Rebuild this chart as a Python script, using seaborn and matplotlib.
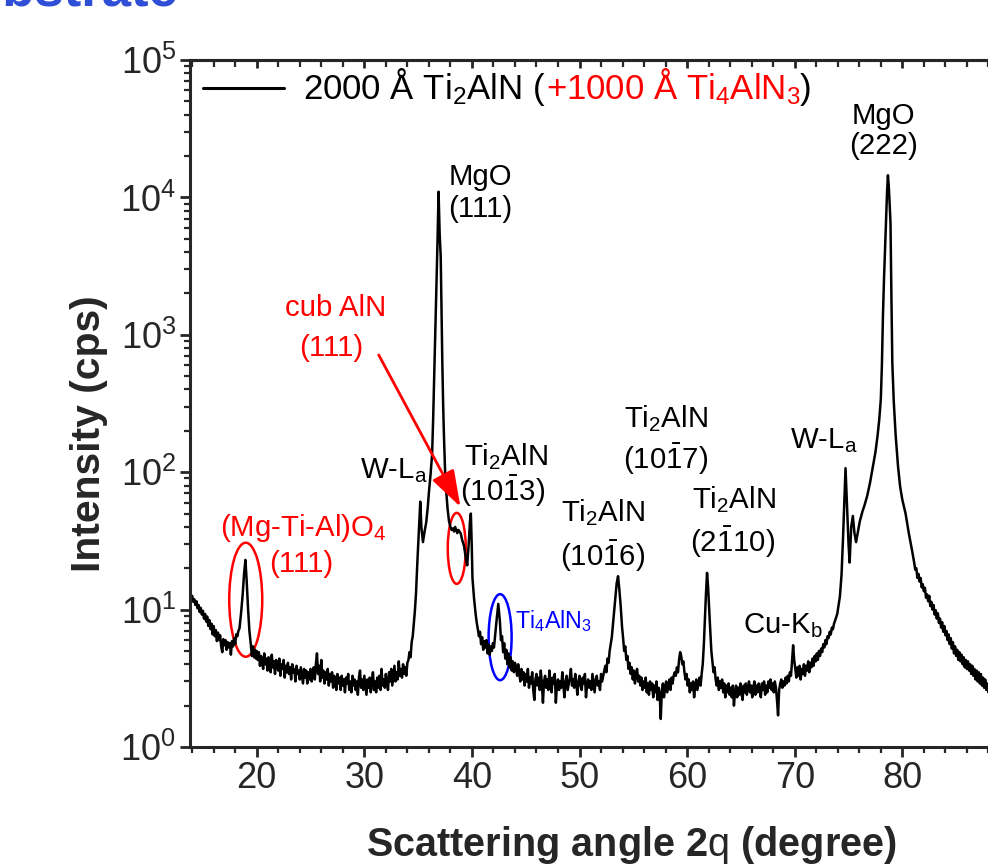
# XRD scan of Ti2AlN / Ti4AlN3 film on MgO(111) -- log intensity vs 2-theta
import numpy as np
import pandas as pd
import seaborn as sns
import matplotlib.pyplot as plt
from matplotlib import font_manager
from matplotlib.patches import Ellipse
from matplotlib.lines import Line2D
from matplotlib.offsetbox import AnchoredOffsetbox, HPacker, TextArea, DrawingArea
from matplotlib.ticker import MultipleLocator, LogLocator, NullFormatter

# --------------------------------------------
# scan data: (2theta [deg], intensity [cps])
# --------------------------------------------
scan_low = [  # 13.8 - 34 deg, spinel (111) at ~19 deg
    (13.8, 13.0), (13.9, 12.1), (14.0, 12.6), (14.1, 11.4), (14.2, 11.9), (14.3, 10.8),
    (14.4, 11.5), (14.5, 10.2), (14.6, 10.8), (14.7, 9.6), (14.8, 10.3), (14.9, 9.2),
    (15.0, 9.8), (15.1, 8.6), (15.2, 9.3), (15.3, 8.2), (15.4, 8.9), (15.5, 7.6),
    (15.6, 8.4), (15.7, 7.2), (15.8, 7.9), (15.9, 6.6), (16.0, 7.6), (16.1, 6.4),
    (16.2, 7.1), (16.3, 5.9), (16.4, 6.8), (16.5, 6.0), (16.6, 6.5), (16.7, 5.4),
    (16.8, 4.9), (16.9, 6.1), (17.0, 5.5), (17.1, 6.0), (17.2, 5.1), (17.3, 5.8),
    (17.4, 5.3), (17.5, 5.7), (17.6, 4.7), (17.7, 5.9), (17.8, 5.4), (17.9, 6.2),
    (18.0, 5.6), (18.1, 6.6), (18.2, 6.4), (18.3, 7.0), (18.4, 7.3),
    (18.55, 9.5), (18.7, 13.0), (18.82, 18.0), (18.95, 23.0), (19.07, 16.0), (19.2, 10.0),
    (19.32, 7.0), (19.45, 5.6), (19.55, 4.6), (19.65, 5.4), (19.75, 4.5), (19.85, 5.1),
    (19.93, 4.4),
    (20.0, 5.0), (20.1, 4.3), (20.2, 4.9), (20.3, 3.9), (20.4, 4.6), (20.5, 4.1),
    (20.6, 3.7), (20.7, 4.8), (20.8, 4.0), (20.9, 4.4), (21.0, 3.6), (21.1, 4.5),
    (21.2, 4.1), (21.3, 3.5), (21.4, 4.7), (21.5, 3.8), (21.6, 4.2), (21.7, 3.4),
    (21.8, 4.3), (21.9, 3.9), (22.0, 3.6), (22.1, 4.4), (22.2, 3.3), (22.3, 4.0),
    (22.4, 3.7), (22.5, 4.3), (22.6, 3.2), (22.7, 3.9), (22.8, 3.5), (22.9, 4.1),
    (23.0, 3.4), (23.1, 3.8), (23.2, 3.1), (23.3, 4.0), (23.4, 3.5), (23.5, 3.7),
    (23.6, 3.0), (23.7, 3.9), (23.8, 3.4), (23.9, 3.6), (24.0, 3.1), (24.1, 3.8),
    (24.2, 3.3), (24.3, 2.9), (24.4, 3.7), (24.5, 3.2), (24.6, 3.6), (24.7, 2.9),
    (24.8, 3.5), (24.9, 3.1), (25.0, 3.7), (25.1, 3.0), (25.2, 3.4), (25.3, 3.8),
    (25.4, 3.1), (25.5, 4.0), (25.6, 4.8), (25.7, 3.4), (25.8, 3.9), (25.9, 3.0),
    (26.0, 4.3), (26.1, 3.2), (26.2, 3.6), (26.3, 2.9), (26.4, 3.5), (26.5, 3.1),
    (26.6, 3.7), (26.7, 2.8), (26.8, 3.4), (26.9, 3.0), (27.0, 3.5), (27.1, 2.7),
    (27.2, 3.3), (27.3, 3.0), (27.4, 2.6), (27.5, 3.4), (27.6, 2.9), (27.7, 3.2),
    (27.8, 2.6), (27.9, 3.3), (28.0, 2.8), (28.1, 3.1), (28.2, 2.5), (28.3, 3.2),
    (28.4, 2.9), (28.5, 3.4), (28.6, 2.6), (28.7, 3.0), (28.8, 2.5), (28.9, 3.3),
    (29.0, 2.8), (29.1, 3.1), (29.2, 2.6), (29.3, 3.0), (29.4, 2.4), (29.5, 3.2),
    (29.6, 3.6), (29.7, 2.7), (29.8, 3.1), (29.9, 2.6), (30.0, 3.3), (30.1, 2.8),
    (30.2, 2.4), (30.3, 3.1), (30.4, 2.7), (30.5, 3.2), (30.6, 2.5), (30.7, 3.0),
    (30.8, 3.5), (30.9, 2.6), (31.0, 3.0), (31.1, 2.5), (31.2, 3.2), (31.3, 2.7),
    (31.4, 3.3), (31.5, 2.6), (31.6, 3.7), (31.7, 2.8), (31.8, 3.1), (31.9, 2.7),
    (32.0, 3.4), (32.1, 2.9), (32.2, 2.6), (32.3, 3.5), (32.4, 3.0), (32.5, 3.7),
    (32.6, 2.8), (32.7, 3.3), (32.8, 3.9), (32.9, 3.0), (33.0, 3.5), (33.1, 3.1),
    (33.2, 4.2), (33.3, 3.3), (33.4, 3.7), (33.5, 3.2), (33.6, 4.0), (33.7, 3.4),
    (33.8, 3.8), (33.9, 3.3), (34.0, 4.1),
]

scan_mgo111 = [  # 34.2 - 44 deg: W-La, MgO(111), cub AlN, Ti2AlN, Ti4AlN3
    (34.1, 4.3), (34.2, 4.9), (34.3, 4.5), (34.4, 5.8), (34.5, 6.4), (34.6, 8.0),
    (34.7, 9.8), (34.8, 13.0), (34.95, 24.0), (35.1, 42.0),
    (35.2, 61.0), (35.3, 40.0), (35.45, 31.0), (35.6, 37.0), (35.75, 43.0), (35.9, 56.0),
    (36.0, 71.0), (36.15, 95.0), (36.3, 135.0), (36.4, 250.0), (36.48, 450.0), (36.56, 850.0),
    (36.64, 1500.0), (36.72, 2800.0), (36.8, 4700.0), (36.9, 11000.0), (37.0, 5500.0),
    (37.1, 3700.0), (37.18, 1400.0), (37.25, 620.0), (37.33, 300.0), (37.4, 185.0),
    (37.5, 105.0), (37.6, 75.0), (37.73, 55.0), (37.87, 44.0), (38.0, 40.0), (38.12, 38.0),
    (38.24, 39.0), (38.34, 37.0), (38.44, 40.0), (38.54, 38.0), (38.64, 36.0), (38.74, 38.0),
    (38.84, 37.0), (38.95, 36.0), (39.1, 32.0), (39.27, 29.0), (39.42, 24.0), (39.56, 21.0),
    (39.7, 30.0), (39.82, 44.0), (39.9, 50.0), (39.98, 30.0), (40.05, 17.0), (40.2, 12.0),
    (40.35, 9.2), (40.45, 8.0), (40.55, 7.2), (40.65, 6.4), (40.75, 6.9), (40.85, 5.6),
    (40.95, 6.3), (41.05, 5.1), (41.15, 5.9), (41.25, 5.3), (41.35, 6.0), (41.45, 4.8),
    (41.55, 5.6), (41.65, 4.7), (41.75, 5.4), (41.85, 5.0), (41.95, 5.7), (42.05, 5.3),
    (42.15, 6.4), (42.3, 8.5), (42.45, 11.0), (42.6, 8.2), (42.7, 6.0), (42.8, 6.4),
    (42.9, 4.9), (43.0, 5.7), (43.1, 4.4), (43.2, 5.1), (43.3, 4.0), (43.4, 4.8),
    (43.5, 3.8), (43.6, 4.5), (43.7, 3.6), (43.8, 4.2), (43.9, 3.5), (44.0, 4.1),
]

scan_mid = [  # 44.1 - 59.15 deg: Ti2AlN (10-16)
    (44.1, 3.8), (44.2, 3.3), (44.3, 4.0), (44.4, 3.4), (44.5, 3.0), (44.6, 3.7),
    (44.7, 3.1), (44.8, 3.5), (44.9, 2.8), (45.0, 3.4), (45.1, 3.0), (45.2, 3.7),
    (45.3, 2.7), (45.4, 3.2), (45.5, 2.9), (45.6, 3.5), (45.7, 2.6), (45.8, 2.2),
    (45.9, 3.1), (46.0, 3.4), (46.1, 2.8), (46.2, 3.2), (46.3, 2.6), (46.4, 3.6),
    (46.5, 2.9), (46.6, 2.1), (46.7, 3.0), (46.8, 3.3), (46.9, 2.7), (47.0, 3.1),
    (47.1, 2.6), (47.2, 3.6), (47.3, 2.9), (47.4, 2.5), (47.5, 3.2), (47.6, 2.9),
    (47.7, 3.4), (47.8, 2.1), (47.9, 2.8), (48.0, 3.1), (48.1, 2.6), (48.2, 3.0),
    (48.3, 2.7), (48.4, 3.5), (48.5, 2.8), (48.6, 2.3), (48.7, 3.0), (48.8, 3.3),
    (48.9, 2.6), (49.0, 2.9), (49.1, 3.2), (49.2, 3.7), (49.3, 2.8), (49.4, 3.1),
    (49.5, 2.7), (49.6, 3.4), (49.7, 2.9), (49.8, 2.4), (49.9, 3.0), (50.0, 3.3),
    (50.1, 2.8), (50.2, 2.6), (50.3, 3.2), (50.4, 2.9), (50.5, 3.4), (50.6, 2.3),
    (50.7, 2.8), (50.8, 3.1), (50.9, 2.7), (51.0, 3.0), (51.1, 2.6), (51.2, 3.4),
    (51.3, 2.9), (51.4, 2.5), (51.5, 3.1), (51.6, 3.3), (51.7, 2.8), (51.8, 3.0),
    (51.9, 2.6), (52.0, 3.4), (52.1, 3.0), (52.2, 3.3), (52.3, 3.6), (52.4, 3.9),
    (52.5, 3.5), (52.6, 4.4), (52.7, 4.1), (52.8, 5.0), (52.9, 5.6),
    (53.0, 6.3), (53.15, 8.5), (53.3, 11.5), (53.45, 15.5), (53.58, 17.5), (53.7, 14.0),
    (53.83, 10.5), (53.95, 7.5), (54.05, 6.2), (54.15, 5.0), (54.25, 5.4), (54.35, 4.3),
    (54.45, 4.6), (54.55, 3.7),
    (54.65, 4.1), (54.75, 3.4), (54.85, 3.8), (54.95, 3.1), (55.05, 3.6), (55.15, 2.9),
    (55.25, 3.4), (55.35, 3.7), (55.45, 3.0), (55.55, 3.3), (55.65, 2.8), (55.75, 3.2),
    (55.85, 2.6), (55.95, 3.0), (56.05, 2.7), (56.15, 3.2), (56.25, 2.5), (56.35, 2.9),
    (56.45, 2.4), (56.55, 3.0), (56.65, 2.6), (56.75, 2.9), (56.85, 2.3), (56.95, 2.8),
    (57.05, 2.5), (57.15, 3.0), (57.25, 2.2), (57.35, 2.7), (57.45, 2.4), (57.55, 1.6),
    (57.65, 2.6), (57.75, 2.9), (57.85, 2.3), (57.95, 2.7), (58.05, 3.0), (58.15, 2.5),
    (58.25, 2.8), (58.35, 3.1), (58.45, 2.6), (58.55, 3.2), (58.65, 2.9), (58.75, 3.3),
    (58.85, 3.5), (58.95, 3.3), (59.05, 3.8), (59.15, 3.5),
]

scan_high = [  # 59.25 - 73.85 deg: Ti2AlN (2-1-10), Cu-Kb
    (59.25, 4.3), (59.35, 4.9), (59.45, 4.6), (59.55, 4.0), (59.65, 4.2), (59.75, 3.5),
    (59.85, 3.1), (59.95, 3.4), (60.05, 2.8), (60.15, 3.1), (60.25, 2.5), (60.35, 2.9),
    (60.45, 2.6), (60.55, 3.0), (60.65, 2.3), (60.75, 2.8), (60.85, 3.1), (60.95, 2.6),
    (61.05, 2.9), (61.15, 3.2), (61.25, 2.8), (61.35, 3.4), (61.45, 4.0), (61.55, 5.5),
    (61.65, 8.5), (61.75, 13.0), (61.85, 18.5), (61.95, 14.5), (62.05, 10.0), (62.15, 7.0),
    (62.25, 5.0), (62.35, 4.2), (62.45, 3.5), (62.55, 3.8),
    (62.65, 3.1), (62.75, 2.8), (62.85, 3.2), (62.95, 2.6), (63.05, 3.0), (63.15, 2.7),
    (63.25, 3.1), (63.35, 2.5), (63.45, 2.9), (63.55, 2.3), (63.65, 2.8), (63.75, 2.5),
    (63.85, 2.9), (63.95, 2.4), (64.05, 2.7), (64.15, 2.3), (64.25, 2.8), (64.35, 2.0),
    (64.45, 2.5), (64.55, 2.8), (64.65, 2.3), (64.75, 2.7), (64.85, 2.4), (64.95, 2.9),
    (65.05, 2.5), (65.15, 2.2), (65.25, 2.8), (65.35, 2.5), (65.45, 2.9), (65.55, 2.4),
    (65.65, 2.7), (65.75, 3.0), (65.85, 2.5), (65.95, 2.8), (66.05, 2.3), (66.15, 2.7),
    (66.25, 3.0), (66.35, 2.4), (66.45, 2.8), (66.55, 2.5), (66.65, 2.9), (66.75, 2.6),
    (66.85, 2.3), (66.95, 2.9), (67.05, 2.6), (67.15, 3.0), (67.25, 2.4), (67.35, 2.8),
    (67.45, 2.5), (67.55, 3.0), (67.65, 2.7), (67.75, 3.1), (67.85, 2.6), (67.95, 2.9),
    (68.05, 2.5), (68.15, 3.0), (68.25, 2.7), (68.35, 2.2), (68.45, 1.7), (68.55, 2.6),
    (68.65, 2.9), (68.75, 3.1), (68.85, 2.7), (68.95, 3.0), (69.05, 2.8), (69.15, 3.2),
    (69.25, 2.9), (69.35, 3.3), (69.45, 3.0), (69.55, 3.5), (69.65, 3.3), (69.75, 4.2),
    (69.85, 5.5), (69.95, 4.3), (70.05, 3.7),
    (70.15, 3.2), (70.25, 3.8), (70.35, 3.3), (70.45, 3.9), (70.55, 3.1), (70.65, 3.7),
    (70.75, 3.4), (70.85, 4.0), (70.95, 3.3), (71.05, 3.9), (71.15, 3.6), (71.25, 4.2),
    (71.35, 3.5), (71.45, 4.1), (71.55, 3.8), (71.65, 4.4), (71.75, 3.9), (71.85, 4.6),
    (71.95, 4.2), (72.05, 4.8), (72.15, 4.3), (72.25, 5.0), (72.35, 4.6), (72.45, 5.2),
    (72.55, 4.9), (72.65, 5.6), (72.75, 5.3), (72.85, 6.0), (72.95, 5.6), (73.05, 6.4),
    (73.15, 6.2), (73.25, 6.9), (73.35, 6.6), (73.45, 7.4), (73.55, 7.2), (73.65, 7.9),
    (73.75, 8.3), (73.85, 8.8),
]

scan_mgo222 = [  # 73.95 - 88.3 deg: W-La, MgO(222)
    (73.95, 9.3), (74.05, 10.5), (74.2, 12.5), (74.35, 18.0), (74.48, 32.0), (74.6, 60.0),
    (74.72, 107.0), (74.85, 60.0), (75.0, 30.0), (75.1, 22.0), (75.25, 40.0), (75.4, 48.0),
    (75.55, 36.0), (75.7, 31.0), (75.85, 36.0), (76.05, 44.0), (76.3, 52.0), (76.5, 58.0),
    (76.75, 68.0), (77.0, 84.0), (77.25, 108.0), (77.5, 140.0), (77.7, 185.0), (77.85, 240.0),
    (78.0, 340.0), (78.1, 600.0), (78.2, 1400.0), (78.3, 2600.0), (78.4, 4300.0),
    (78.5, 7000.0), (78.58, 11000.0), (78.66, 14500.0), (78.74, 12000.0), (78.82, 9000.0),
    (78.9, 6500.0), (78.98, 2000.0), (79.07, 620.0), (79.2, 330.0), (79.38, 185.0),
    (79.6, 110.0), (79.8, 78.0), (80.0, 63.0), (80.3, 50.0), (80.6, 36.0), (80.9, 27.0),
    (81.1, 22.0), (81.2, 19.5), (81.3, 20.0), (81.4, 17.0), (81.5, 18.2), (81.6, 16.0),
    (81.7, 17.0), (81.8, 14.5), (81.9, 15.3), (82.0, 13.6), (82.1, 14.4), (82.2, 12.2),
    (82.3, 12.9), (82.4, 11.5), (82.5, 12.6), (82.6, 10.6), (82.7, 11.4), (82.8, 10.0),
    (82.9, 10.8), (83.0, 9.2), (83.1, 9.9), (83.2, 8.6), (83.3, 9.4), (83.4, 8.0),
    (83.5, 8.6), (83.6, 7.4), (83.7, 8.1), (83.8, 6.9), (83.9, 7.6), (84.0, 6.5),
    (84.1, 7.0), (84.2, 6.0), (84.3, 6.6), (84.4, 5.6), (84.5, 6.2), (84.6, 5.2),
    (84.7, 5.8), (84.8, 4.8), (84.9, 5.4), (85.0, 4.6), (85.1, 5.1), (85.2, 4.3),
    (85.3, 4.9), (85.4, 4.2), (85.5, 4.7), (85.6, 4.0), (85.7, 4.5), (85.8, 3.8),
    (85.9, 4.3), (86.0, 3.7), (86.1, 4.2), (86.2, 3.6), (86.3, 4.0), (86.4, 3.4),
    (86.5, 3.9), (86.6, 3.3), (86.7, 3.7), (86.8, 3.1), (86.9, 3.6), (87.0, 3.0),
    (87.1, 3.5), (87.2, 2.9), (87.3, 3.4), (87.4, 2.8), (87.5, 3.2), (87.6, 2.7),
    (87.7, 3.1), (87.8, 2.6), (87.9, 2.9), (88.0, 2.5), (88.1, 2.8), (88.2, 2.4),
    (88.3, 2.7),
]

df = pd.DataFrame(scan_low + scan_mgo111 + scan_mid + scan_high + scan_mgo222,
                  columns=['two_theta', 'counts'])

# --------------------------------------------
# fonts: condensed Arial look if available
# --------------------------------------------
try:
    font_manager.findfont(font_manager.FontProperties(family='Liberation Sans Narrow'),
                          fallback_to_default=False)
    NARROW = 'Liberation Sans Narrow'
    k = 1.0
except ValueError:
    NARROW = 'Liberation Sans'
    k = 0.88

sns.set_style('ticks')
plt.rcParams['font.family'] = ['Liberation Sans', 'DejaVu Sans']
plt.rcParams['mathtext.fontset'] = 'custom'
plt.rcParams['mathtext.rm'] = NARROW
plt.rcParams['mathtext.default'] = 'regular'

RED = '#ff0000'
BLUE = '#0000ff'

fig = plt.figure(figsize=(9.88, 8.65), dpi=100)
ax = fig.add_axes([190 / 988, 118 / 865, 808 / 988, 687 / 865])

sns.lineplot(data=df, x='two_theta', y='counts', ax=ax, color='black', lw=1.8,
             estimator=None, sort=False, legend=False)
ax.set_yscale('log')
ax.set_xlim(13.8, 88.89)
ax.set_ylim(1, 1e5)

# ticks: out on bottom/left, mirrored in on top
ax.xaxis.set_major_locator(MultipleLocator(10))
ax.xaxis.set_minor_locator(MultipleLocator(2))
ax.yaxis.set_major_locator(LogLocator(base=10, numticks=10))
ax.yaxis.set_minor_locator(LogLocator(base=10, subs=np.arange(2, 10), numticks=20))
ax.yaxis.set_minor_formatter(NullFormatter())
ax.tick_params(which='major', direction='out', length=7, width=2, labelsize=26, pad=3)
ax.tick_params(which='minor', direction='out', length=4, width=1.6)
ax.tick_params(top=False, right=False)
for s in ax.spines.values():
    s.set_linewidth(2.2)

top = ax.secondary_xaxis('top')
top.xaxis.set_major_locator(MultipleLocator(10))
top.xaxis.set_minor_locator(MultipleLocator(2))
top.tick_params(axis='x', which='major', direction='in', length=6, width=2, labeltop=False)
top.tick_params(axis='x', which='minor', direction='in', length=5, width=1.6)
top.spines['top'].set_linewidth(2.2)

ax.set_xlabel(r'Scattering angle 2$\mathrm{q}$ (degree)', family=NARROW, fontsize=34 * 0.84,
              fontweight='bold', va='baseline')
ax.xaxis.set_label_coords(0.5458, -0.1587)
ax.set_ylabel('Intensity (cps)', family=NARROW, fontsize=35 * 0.84, fontweight='bold',
              va='center')
ax.yaxis.set_label_coords(-0.1244, 0.4556)

# slide title, cut off by the top edge
fig.text(178 / 988, 1 - 5 / 865, 'Substrate', color='#2f4fd6', fontsize=38,
         fontweight='bold', ha='right', va='baseline')

# --------------------------------------------
# legend: black line + two-coloured label
# --------------------------------------------
key = DrawingArea(58, 25, 0, 0)
key.add_artist(Line2D([0, 58], [8, 8], color='black', lw=2.2))
lab = HPacker(children=[
    TextArea('2000 Å Ti$_2$AlN (', textprops=dict(color='black', fontsize=25)),
    TextArea('+1000 Å Ti$_4$AlN$_3$', textprops=dict(color=RED, fontsize=25)),
    TextArea(')', textprops=dict(color='black', fontsize=25)),
], align='baseline', pad=0, sep=0)
box = HPacker(children=[key, lab], align='baseline', pad=0, sep=14)
ax.add_artist(AnchoredOffsetbox(loc='center left', child=box, pad=0, borderpad=0,
                                frameon=False, bbox_to_anchor=(203 / 988, 1 - 86 / 865),
                                bbox_transform=fig.transFigure))

# --------------------------------------------
# peak labels
# --------------------------------------------
def note(x, y, s, color='black', size=24):
    ax.text(x, y, s, color=color, fontsize=size * k, family=NARROW,
            ha='center', va='baseline')

note(40.8, 12300, 'MgO')
note(40.8, 7200, '(111)')
note(78.27, 34200, 'MgO')
note(78.27, 20700, '(222)')
note(27.34, 1370, 'cub AlN', RED)
note(26.97, 701, '(111)', RED)
note(32.73, 90.7, 'W-L$_a$')
note(43.14, 113, 'Ti$_2$AlN')
note(42.86, 61.7, r'(10$\bar{1}$3)')
note(52.2, 44.2, 'Ti$_2$AlN')
note(52.1, 20.8, r'(10$\bar{1}$6)')
note(58.0, 213, 'Ti$_2$AlN')
note(58.0, 105.5, r'(10$\bar{1}$7)')
note(64.38, 54.9, 'Ti$_2$AlN')
note(64.2, 26.3, r'(2$\bar{1}$10)')
note(72.7, 150, 'W-L$_a$')
note(68.88, 6.76, 'Cu-K$_b$')
note(47.6, 7.35, 'Ti$_4$AlN$_3$', BLUE, size=19)
note(24.37, 34.3, '(Mg-Ti-Al)O$_4$', RED)
note(24.18, 18.8, '(111)', RED)


def ring(x, y, w_px, h_px, color):
    cx, cy = ax.transAxes.inverted().transform(ax.transData.transform((x, y)))
    ax.add_patch(Ellipse((cx, cy), w_px / 808, h_px / 687, transform=ax.transAxes,
                         fill=False, ec=color, lw=1.8))

ring(18.98, 11.8, 33, 114, RED)
ring(38.59, 27.9, 18, 71, RED)
ring(42.62, 6.3, 23, 86, BLUE)

ax.annotate('', xy=(38.93, 56), xytext=(31.34, 713),
            arrowprops=dict(arrowstyle='-|>,head_length=0.9,head_width=0.3', color=RED,
                            lw=2, mutation_scale=25, shrinkA=0, shrinkB=0))

fig.savefig('out.png', dpi=100)
